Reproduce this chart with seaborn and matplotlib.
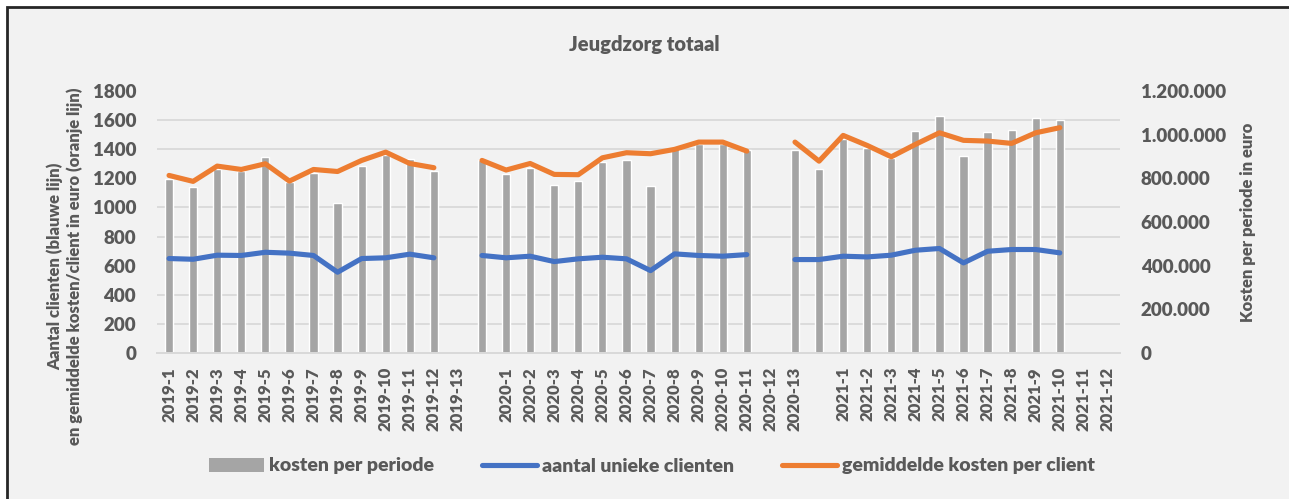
import pandas as pd
import matplotlib
matplotlib.use("Agg")
import matplotlib.pyplot as plt
from matplotlib.ticker import MultipleLocator, FuncFormatter
from matplotlib.patches import Rectangle, Patch
from matplotlib.lines import Line2D
import seaborn as sns

# categories on the x axis (empty strings are the unlabeled slots)
periodes = ["2019-1", "2019-2", "2019-3", "2019-4", "2019-5", "2019-6", "2019-7",
            "2019-8", "2019-9", "2019-10", "2019-11", "2019-12", "2019-13", "",
            "2020-1", "2020-2", "2020-3", "2020-4", "2020-5", "2020-6", "2020-7",
            "2020-8", "2020-9", "2020-10", "2020-11", "2020-12", "2020-13", "",
            "2021-1", "2021-2", "2021-3", "2021-4", "2021-5", "2021-6", "2021-7",
            "2021-8", "2021-9", "2021-10", "2021-11", "2021-12"]

# kosten per periode in euro (None = no value)
kosten = [795000, 760000, 844000, 833000, 897000, 783000, 825000, 686000, 856000, 905000,
          887000, 833000, None,
          882000, 818000, 848000, 770000, 789000, 876000, 884000, 767000, 940000, 955000,
          955000, 932000, None,
          932000, 844000, 978000, 940000, 894000, 1017000, 1085000, 902000, 1014000,
          1021000, 1075000, 1066000, None, None]

# aantal unieke clienten
clienten = [649, 644, 672, 670, 692, 686, 670, 555, 649, 654, 679, 654, None,
            670, 654, 665, 628, 647, 658, 647, 566, 681, 670, 665, 676, None,
            642, 642, 665, 660, 672, 706, 718, 619, 699, 711, 711, 688, None, None]

# gemiddelde kosten per client
gemiddeld = [1220, 1179, 1284, 1261, 1300, 1181, 1261, 1247, 1323, 1380, 1302, 1273, None,
             1323, 1257, 1302, 1227, 1225, 1341, 1376, 1369, 1399, 1449, 1449, 1387, None,
             1449, 1318, 1495, 1426, 1348, 1433, 1513, 1461, 1456, 1440, 1513, 1548, None, None]

GREY_TXT = "#595959"
BAR_COL = "#A5A5A5"
BLUE = "#4472C4"
ORANGE = "#ED7D31"
GRID = "#D9D9D9"
BG = "#F2F2F2"
WEIGHT = "heavy"

sns.set_theme(style="white")
plt.rcParams["font.family"] = ["Lato", "DejaVu Sans"]

df = pd.DataFrame({"pos": range(len(periodes)), "periode": periodes,
                   "kosten": kosten, "clienten": clienten, "gemiddeld": gemiddeld})
# segment id so the lines break where there is no data
df["seg"] = df["kosten"].isna().cumsum()
df_data = df.dropna(subset=["kosten"])

fig = plt.figure(figsize=(12.89, 4.99), dpi=100, facecolor="white")
fig.patches.append(Rectangle((7 / 1289, -0.05), 1.1, 1 - 7 / 499 + 0.05, transform=fig.transFigure,
                             facecolor=BG, edgecolor="#262626", linewidth=2, zorder=-10))

ax = fig.add_axes([157 / 1289, 1 - 353 / 499, (1120 - 157) / 1289, (353 - 91) / 499])
ax.patch.set_visible(False)
ax2 = ax.twinx()

# bars on the cost axis (drawn below), lines on the client axis (drawn above)
sns.barplot(data=df_data, x="pos", y="kosten", order=list(range(len(periodes))),
            color=BAR_COL, saturation=1, width=0.34, errorbar=None, ax=ax, zorder=2)
sns.lineplot(data=df_data, x="pos", y="clienten", units="seg", estimator=None,
             color=BLUE, linewidth=3.7, solid_capstyle="round", ax=ax2, legend=False)
sns.lineplot(data=df_data, x="pos", y="gemiddeld", units="seg", estimator=None,
             color=ORANGE, linewidth=3.7, solid_capstyle="round", ax=ax2, legend=False)

ax.set_xlim(-0.5, len(periodes) - 0.5)
ax.set_ylim(0, 1200000)
ax2.set_ylim(0, 1800)

# swap sides: costs right, clients left
ax.yaxis.tick_right()
ax.yaxis.set_label_position("right")
ax2.yaxis.tick_left()
ax2.yaxis.set_label_position("left")

ax.yaxis.set_major_locator(MultipleLocator(200000))
ax.yaxis.set_minor_locator(MultipleLocator(1200000 / 9))
ax.yaxis.set_major_formatter(FuncFormatter(lambda v, p: f"{int(round(v)):,}".replace(",", ".")))
ax.grid(False)
ax.grid(which="minor", axis="y", color=GRID, linewidth=1.3, zorder=0)
ax.set_axisbelow(True)
ax2.yaxis.set_major_locator(MultipleLocator(200))

ax.set_xticks(range(len(periodes)))
ax.set_xticklabels(periodes, rotation=90, va="top", ha="center")
ax.tick_params(axis="x", length=0, pad=10, labelsize=12, labelcolor=GREY_TXT)
ax.tick_params(axis="y", which="both", length=0, pad=15, labelsize=13.5, labelcolor=GREY_TXT)
ax2.tick_params(axis="y", length=0, pad=15, labelsize=13.5, labelcolor=GREY_TXT)
for lab in ax.get_xticklabels() + ax.get_yticklabels() + ax2.get_yticklabels():
    lab.set_fontweight(WEIGHT)

for a in (ax, ax2):
    for s in ["top", "left", "right"]:
        a.spines[s].set_visible(False)
    a.spines["bottom"].set_color(GRID)
    a.spines["bottom"].set_linewidth(1.3)
    a.set_xlabel("")

ax2.set_ylabel("Aantal clienten (blauwe lijn)\nen gemiddelde kosten/client in euro (oranje lijn)",
               fontsize=12, fontweight=WEIGHT, color=GREY_TXT, linespacing=1.2)
ax2.yaxis.set_label_coords(-0.077, 0.33)
ax.set_ylabel("Kosten per periode in euro", fontsize=12, fontweight=WEIGHT, color=GREY_TXT)
ax.yaxis.set_label_coords(1.1246, 0.5)

fig.text(0.5, 1 - 45 / 499, "Jeugdzorg totaal", ha="center", va="center",
         fontsize=14.5, fontweight=WEIGHT, color=GREY_TXT)

handles = [Patch(facecolor=BAR_COL, edgecolor="none"),
           Line2D([], [], color=BLUE, linewidth=3.7, solid_capstyle="round"),
           Line2D([], [], color=ORANGE, linewidth=3.7, solid_capstyle="round")]
labels = ["kosten per periode", "aantal unieke clienten", "gemiddelde kosten per client"]
leg = fig.legend(handles, labels, loc="center", bbox_to_anchor=(652 / 1289, 1 - 466 / 499), ncol=3,
                 frameon=False, handlelength=2.8, handletextpad=0.25, columnspacing=2.5,
                 prop={"size": 14, "weight": WEIGHT})
for t in leg.get_texts():
    t.set_color(GREY_TXT)

fig.savefig("out.png", dpi=100, facecolor=fig.get_facecolor())
